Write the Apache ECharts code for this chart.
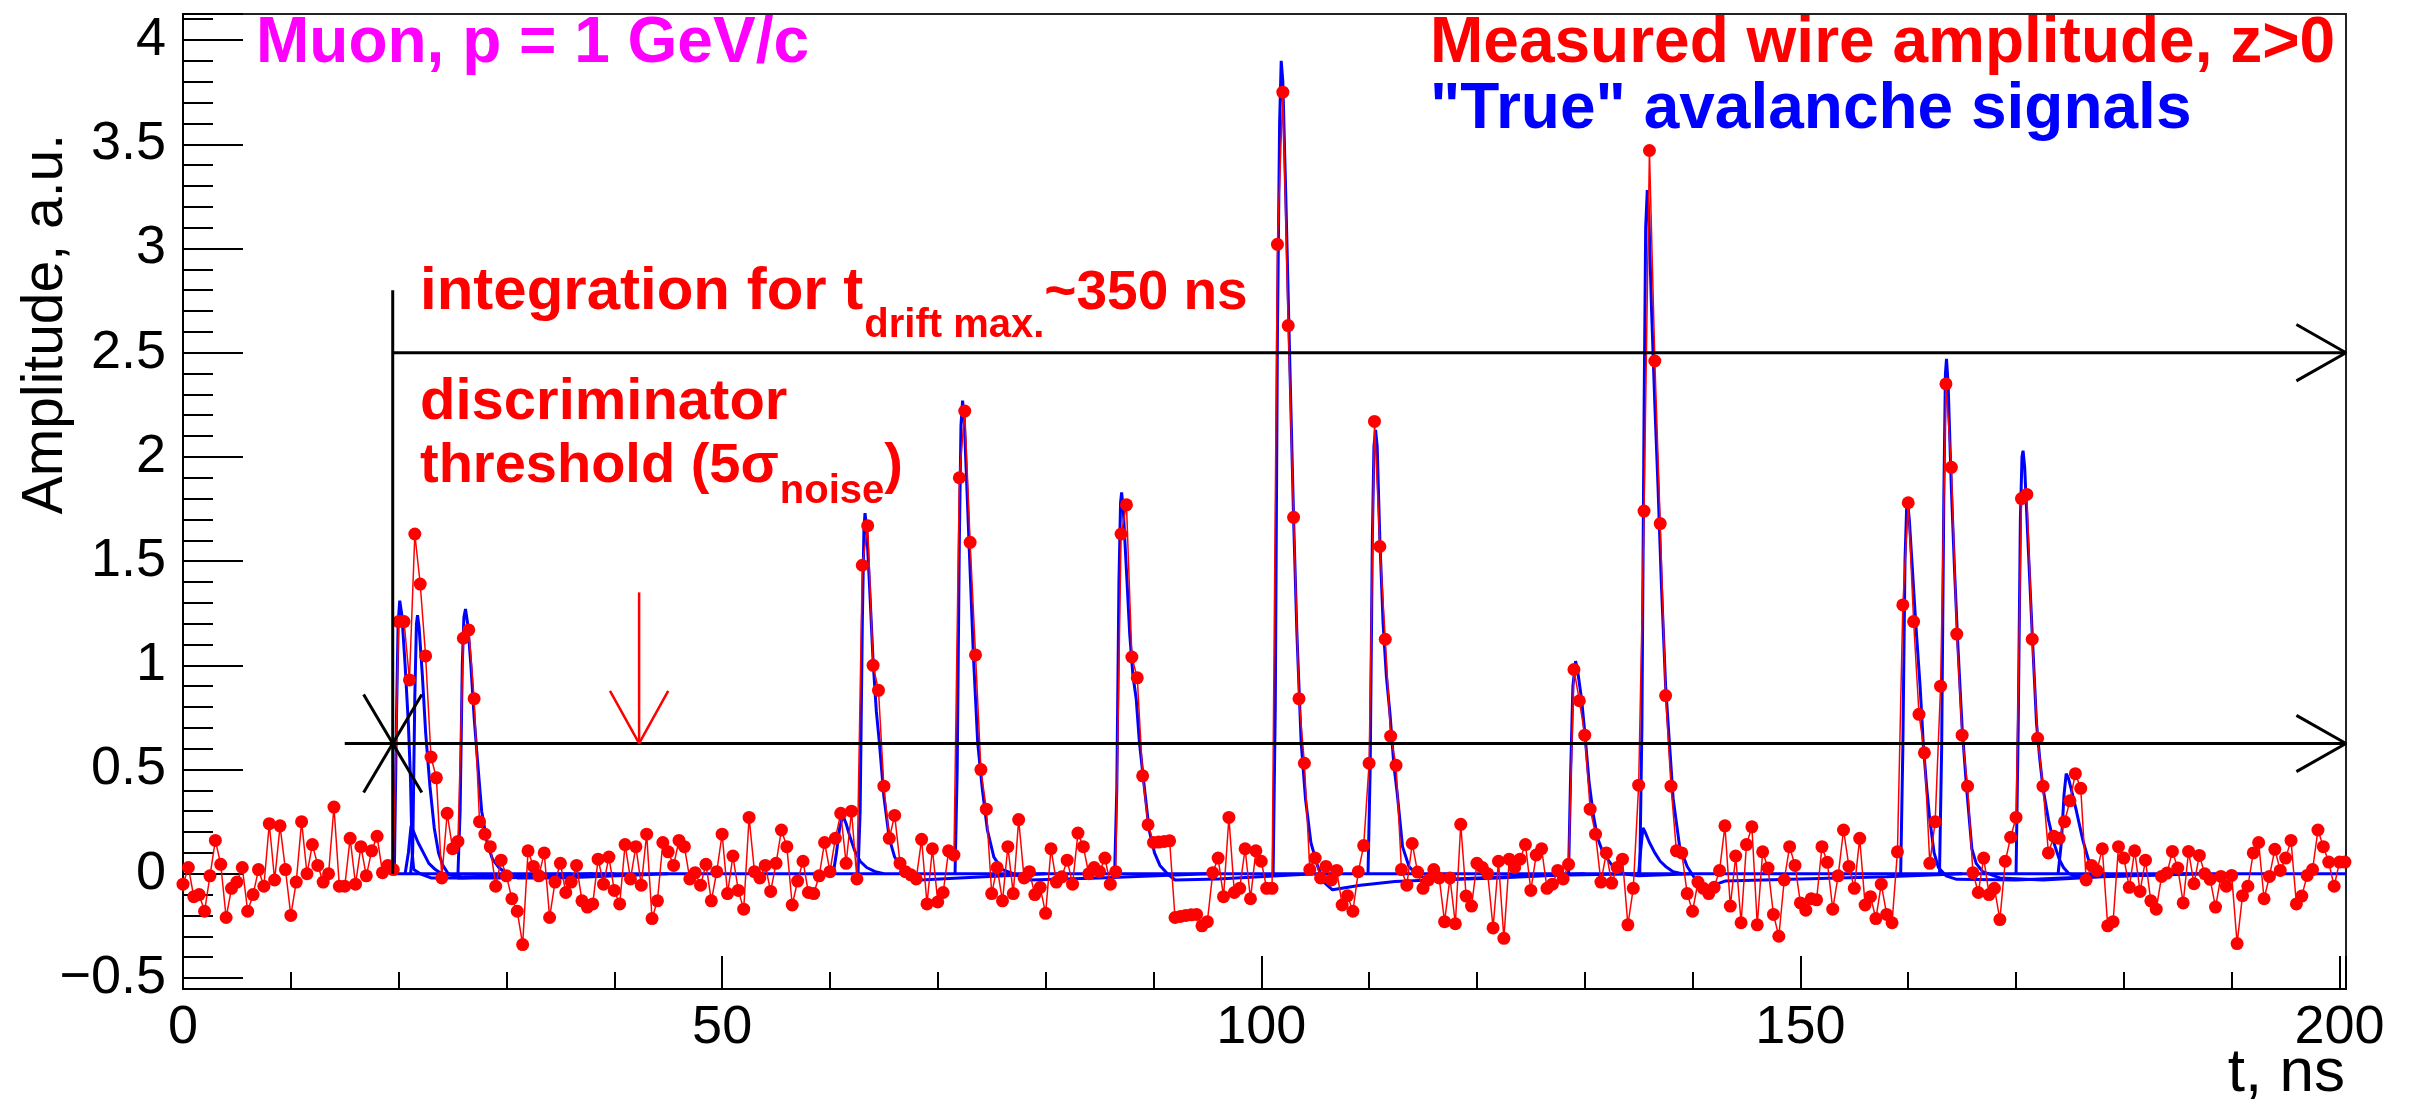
<!DOCTYPE html>
<html><head><meta charset="utf-8">
<script src="https://cdn.jsdelivr.net/npm/echarts@6/dist/echarts.min.js"></script>
<style>html,body{margin:0;padding:0;background:#fff}#c{width:2413px;height:1109px}</style>
</head><body><div id="c"></div>
<script>
// ---------------- data ----------------
const T_START = 0, T_STEP = 0.5;           // sampling of the measured wire amplitude (ns)
const X_MIN = 0, X_MAX = 200.6, Y_MIN = -0.553, Y_MAX = 4.125;
const xMajorLabels = [0, 50, 100, 150, 200];
const yMajorLabels = [-0.5, 0, 0.5, 1, 1.5, 2, 2.5, 3, 3.5, 4];

// measured wire amplitude, one value every 0.5 ns from t = 0 to 200.5
const measured = [
 -0.05,0.03,-0.11,-0.10,-0.18,-0.01,0.16,0.045,-0.21,-0.07,-0.04,0.03,-0.18,-0.10,0.02,-0.06,0.24,-0.03,0.23,0.02,
 -0.20,-0.04,0.25,0.0,0.14,0.04,-0.04,0.0,0.32,-0.06,-0.06,0.17,-0.05,0.13,-0.01,0.11,0.18,0.005,0.04,0.02,
 1.21,1.21,0.93,1.63,1.39,1.045,0.56,0.46,-0.02,0.29,0.12,0.155,1.13,1.17,0.84,0.25,0.19,0.13,-0.06,0.065,
 -0.01,-0.12,-0.18,-0.34,0.11,0.035,-0.01,0.10,-0.21,-0.04,0.05,-0.09,-0.04,0.04,-0.13,-0.16,-0.145,0.07,-0.05,0.08,
 -0.08,-0.145,0.14,-0.025,0.13,-0.055,0.19,-0.215,-0.13,0.15,0.105,0.04,0.16,0.13,-0.025,0.005,-0.055,0.045,-0.13,0.01,
 0.19,-0.095,0.085,-0.08,-0.17,0.27,0.01,-0.02,0.04,-0.085,0.05,0.21,0.13,-0.15,-0.035,0.06,-0.09,-0.095,-0.01,0.15,
 0.01,0.17,0.29,0.05,0.30,-0.025,1.48,1.67,1.0,0.88,0.42,0.17,0.28,0.05,0.01,-0.005,-0.025,0.165,-0.145,0.12,
 -0.135,-0.09,0.11,0.09,1.90,2.22,1.59,1.05,0.50,0.31,-0.095,0.03,-0.13,0.13,-0.095,0.26,-0.02,0.01,-0.10,-0.065,
 -0.19,0.12,-0.04,-0.015,0.065,-0.05,0.195,0.13,0.0,0.03,0.01,0.075,-0.05,0.01,1.63,1.77,1.04,0.94,0.47,0.235,
 0.15,0.152,0.155,0.158,-0.21,-0.205,-0.2,-0.197,-0.195,-0.25,-0.23,0.005,0.075,-0.11,0.27,-0.09,-0.07,0.12,-0.12,0.11,
 0.06,-0.07,-0.07,3.02,3.75,2.63,1.71,0.84,0.53,0.02,0.075,-0.02,0.035,-0.03,0.016,-0.15,-0.105,-0.18,0.01,0.135,
 0.53,2.17,1.57,1.125,0.66,0.52,0.02,-0.055,0.145,0.008,-0.07,-0.03,0.02,-0.02,-0.23,-0.02,-0.24,0.237,-0.107,-0.155,
 0.05,0.03,0.0,-0.26,0.06,-0.31,0.07,0.03,0.07,0.14,-0.08,0.09,0.12,-0.07,-0.05,0.016,-0.025,0.045,0.98,0.83,
 0.665,0.31,0.19,-0.04,0.10,-0.045,0.03,0.07,-0.245,-0.07,0.425,1.74,3.47,2.46,1.68,0.855,0.42,0.11,0.10,-0.095,
 -0.18,-0.04,-0.07,-0.095,-0.065,0.015,0.23,-0.155,0.085,-0.235,0.14,0.225,-0.245,0.105,0.027,-0.195,-0.30,-0.03,0.13,0.04,
 -0.14,-0.175,-0.12,-0.125,0.13,0.055,-0.17,-0.01,0.21,0.035,-0.07,0.17,-0.15,-0.11,-0.215,-0.05,-0.195,-0.235,0.105,1.29,
 1.78,1.21,0.765,0.58,0.05,0.25,0.9,2.35,1.95,1.15,0.665,0.42,0.005,-0.09,0.075,-0.10,-0.07,-0.22,0.06,0.175,
 0.27,1.80,1.82,1.125,0.65,0.42,0.10,0.18,0.17,0.25,0.35,0.48,0.41,-0.03,0.04,0.015,0.12,-0.25,-0.23,0.13,
 0.075,-0.065,0.11,-0.085,0.065,-0.13,-0.17,-0.013,0.003,0.107,0.027,-0.14,0.107,-0.048,0.088,0.0,-0.027,-0.16,-0.013,-0.06,
 -0.008,-0.335,-0.105,-0.06,0.10,0.15,-0.12,-0.013,0.117,0.016,0.075,0.16,-0.145,-0.107,-0.008,0.02,0.21,0.13,0.056,-0.06,
 0.056,0.056
];

// "true" avalanche signals: [t (ns), amplitude]
const trueBaseline = [[19.6,0],[200.6,0]];
const pulseA = [[19.6,0],[19.8,0.75],[19.95,1.2],[20.1,1.31],[20.3,1.24],[20.6,1.0],[20.9,0.72],[21.1,0.45],[21.25,0.1],[21.4,0.02],[22.0,0],[23,-0.02],[26,-0.02],[30,-0.01],[36,0]];
const pulseB = [[21.1,0],[21.3,0.1],[21.5,0.85],[21.65,1.2],[21.75,1.24],[21.9,1.18],[22.2,0.95],[22.5,0.68],[22.9,0.42],[23.3,0.22],[23.7,0.1],[24.1,0.04],[24.6,0.0],[25.5,-0.02],[30,-0.02],[38,0]];
const pulseC = [[20.6,0],[20.9,0.1],[21.15,0.23],[21.4,0.2],[21.8,0.15],[22.3,0.1],[22.8,0.05],[23.4,0.02],[24,0],[26,-0.015],[32,-0.01],[40,0]];
const pulseD = [[25.5,0],[25.7,0.3],[25.9,1.0],[26.05,1.23],[26.2,1.27],[26.4,1.2],[26.7,1.0],[27.0,0.75],[27.3,0.55],[27.7,0.3],[28.2,0.15],[28.7,0.07],[29.3,0.03],[30,0],[31,-0.02],[35,-0.02],[45,0]];
const pulseE = [[60.3,0],[60.6,0.1],[60.9,0.22],[61.2,0.28],[61.5,0.24],[61.9,0.17],[62.3,0.11],[62.8,0.06],[63.4,0.03],[64.2,0.01],[65,0]];
const pulseF = [[62.6,0],[62.8,0.3],[63.0,1.2],[63.15,1.65],[63.25,1.73],[63.4,1.66],[63.7,1.35],[64.0,1.02],[64.3,0.78],[64.6,0.62],[65.0,0.37],[65.5,0.17],[66.0,0.08],[66.6,0.03],[67.3,0.0],[68.4,-0.03],[72,-0.02],[80,0]];
const pulseG = [[71.6,0],[71.8,0.5],[72.0,1.6],[72.15,2.15],[72.3,2.27],[72.45,2.18],[72.7,1.85],[73.0,1.45],[73.3,1.05],[73.7,0.63],[74.1,0.42],[74.6,0.21],[75.2,0.08],[76.0,0.02],[77.0,0.0],[78.5,-0.03],[85,-0.02],[95,0]];
const pulseH = [[86.4,0],[86.6,0.4],[86.8,1.4],[86.95,1.78],[87.05,1.83],[87.2,1.75],[87.5,1.45],[87.8,1.15],[88.1,0.95],[88.4,0.84],[88.7,0.63],[89.1,0.44],[89.6,0.21],[90.1,0.1],[90.6,0.04],[91.3,0.0],[92.0,-0.03],[96,-0.025],[105,0]];
const pulseI = [[101.1,0],[101.3,0.8],[101.5,2.6],[101.7,3.6],[101.85,3.9],[102.0,3.8],[102.3,3.2],[102.6,2.55],[103.0,1.7],[103.3,1.16],[103.7,0.63],[104.1,0.36],[104.6,0.15],[105.2,0.04],[105.8,-0.04],[106.6,-0.077],[109.2,-0.055],[112.4,-0.037],[118,-0.025],[125,-0.01],[135,0]];
const pulseJ = [[109.9,0],[110.1,0.5],[110.3,1.6],[110.45,2.05],[110.6,2.13],[110.75,2.05],[111.0,1.6],[111.3,1.2],[111.6,0.95],[111.95,0.76],[112.3,0.52],[112.6,0.39],[113.1,0.13],[113.7,0.035],[114.5,-0.01],[116,-0.03],[122,-0.02],[130,0]];
const pulseK = [[128.5,0],[128.7,0.5],[128.9,0.9],[129.15,1.02],[129.35,0.97],[129.7,0.84],[130.0,0.68],[130.4,0.44],[130.8,0.28],[131.2,0.17],[131.7,0.1],[132.6,0.035],[133.6,0.0],[135,-0.01],[140,0]];
const pulseL = [[135.1,0],[135.3,0.7],[135.5,2.2],[135.65,3.1],[135.8,3.28],[135.95,3.15],[136.2,2.7],[136.5,2.25],[136.8,1.85],[137.1,1.4],[137.5,0.9],[137.85,0.63],[138.2,0.36],[138.8,0.13],[139.5,0.035],[140.3,-0.03],[141.4,-0.065],[143,-0.035],[150,-0.025],[158,-0.015],[165,0]];
const pulseM = [[135.0,0],[135.2,0.12],[135.4,0.22],[135.6,0.2],[136.0,0.15],[136.5,0.1],[137.0,0.06],[137.5,0.035],[138.2,0.01],[139,0]];
const pulseN = [[159.3,0],[159.5,0.6],[159.7,1.5],[159.85,1.75],[159.95,1.78],[160.1,1.7],[160.4,1.45],[160.7,1.2],[161.1,0.9],[161.4,0.62],[161.7,0.42],[162.0,0.26],[162.4,0.1],[162.8,0.03],[163.5,-0.01],[164.5,-0.027],[170,-0.03],[176.5,-0.016],[185,0]];
const pulseO = [[162.9,0],[163.1,0.6],[163.3,1.8],[163.45,2.4],[163.55,2.47],[163.7,2.35],[164.0,1.85],[164.3,1.45],[164.6,1.1],[165.0,0.7],[165.4,0.42],[165.9,0.12],[166.3,0.05],[166.9,0.01],[168.5,-0.02],[172.5,-0.03],[178,-0.015],[186,0]];
const pulseP = [[170.0,0],[170.2,0.7],[170.4,1.7],[170.55,2.0],[170.65,2.03],[170.8,1.95],[171.1,1.6],[171.5,1.15],[171.9,0.72],[172.2,0.55],[172.5,0.41],[173.0,0.26],[173.5,0.15],[174.0,0.07],[174.4,0.03],[174.9,0.0],[176,-0.015],[180,-0.01],[188,0]];
const pulseQ = [[173.9,0],[174.2,0.15],[174.45,0.38],[174.65,0.48],[174.85,0.46],[175.1,0.41],[175.6,0.3],[176.2,0.16],[176.7,0.07],[177.1,0.025],[177.9,0],[180,-0.01],[185,0]];
const truePulses = [pulseA,pulseB,pulseC,pulseD,pulseE,pulseF,pulseG,pulseH,pulseI,pulseJ,pulseK,pulseL,pulseM,pulseN,pulseO,pulseP,pulseQ];

// annotation geometry in data units (t, amplitude)
const integrationLine  = [[19.45,2.5],[200.6,2.5]];
const integrationHead  = [[196.0,2.635],[200.6,2.5],[196.0,2.365]];
const integrationStart = [[19.45,0],[19.45,2.8]];
const thresholdLine    = [[15.0,0.625],[200.6,0.625]];
const thresholdHead    = [[196.0,0.76],[200.6,0.625],[196.0,0.49]];
const starDiagA        = [[16.75,0.86],[22.15,0.39]];
const starDiagB        = [[16.75,0.39],[22.15,0.86]];
const noiseArrow       = [[42.3,1.35],[42.3,0.625]];
const noiseArrowHead   = [[39.6,0.877],[42.3,0.625],[45.0,0.877]];

// ---------------- chart ----------------
const FONT = '"Liberation Sans", Arial, Helvetica, sans-serif';
const chart = echarts.init(document.getElementById('c'), null, {renderer: 'canvas'});
const mctx = document.createElement('canvas').getContext('2d');
function tw(text, font) { mctx.font = font; return mctx.measureText(text).width; }
function txt(text, x, baseline, fs, color, weight, align) {
  const font = (weight || 'normal') + ' ' + fs + 'px ' + FONT;
  return { type: 'text', x: x, y: baseline - 0.3465 * fs, z: 100,
    style: { text: text, fill: color, font: font, align: align || 'left', textAlign: align || 'left',
             verticalAlign: 'middle', textVerticalAlign: 'middle' } };
}
const BIG = 64, INT = 60, INT2 = 55, MID = 58, THR = 56, SUB = 40;
const fb = (s) => 'bold ' + s + 'px ' + FONT;
const graphics = [];
graphics.push(txt('Muon, p = 1 GeV/c', 256, 67, BIG, '#ff00ff', 'bold'));
graphics.push(txt('Measured wire amplitude, z>0', 1430, 67, BIG, '#ff0000', 'bold'));
graphics.push(txt('"True" avalanche signals', 1430, 133, BIG, '#0000ff', 'bold'));
// integration for t_{drift max.}~350 ns
let x0 = 420;
graphics.push(txt('integration for t', x0, 313, INT, '#ff0000', 'bold'));
let x1 = x0 + tw('integration for t', fb(INT)) + 1;
graphics.push(txt('drift max.', x1, 340, SUB, '#ff0000', 'bold'));
let x2 = x1 + tw('drift max.', fb(SUB));
graphics.push(txt('~350 ns', x2, 313, INT2, '#ff0000', 'bold'));
// discriminator threshold (5 sigma_noise)
graphics.push(txt('discriminator', 420, 423, MID, '#ff0000', 'bold'));
graphics.push(txt('threshold (5\u03C3', 420, 486, THR, '#ff0000', 'bold'));
let x3 = 420 + tw('threshold (5\u03C3', fb(THR)) + 1;
graphics.push(txt('noise', x3, 506, SUB, '#ff0000', 'bold'));
let x4 = x3 + tw('noise', fb(SUB));
graphics.push(txt(')', x4, 486, THR, '#ff0000', 'bold'));
// axis titles
graphics.push(txt('t, ns', 2345, 1095, 62, '#000', 'normal', 'right'));
graphics.push({ type: 'text', x: 66 - 0.3465 * 57, y: 134, rotation: Math.PI / 2, z: 100,
  style: { text: 'Amplitude, a.u.', fill: '#000', font: 'normal 57px ' + FONT,
           align: 'right', textAlign: 'right', verticalAlign: 'middle', textVerticalAlign: 'middle' } });

function xLabel(v) {
  return xMajorLabels.some(m => Math.abs(m - v) < 1e-6) ? String(v) : '';
}
function yLabel(v) {
  const m = yMajorLabels.find(q => Math.abs(q - v) < 1e-6);
  if (m === undefined) return '';
  return m < 0 ? '\u2212' + Math.abs(m) : String(m);
}

const blackLine = (data) => ({ type: 'line', data: data, symbol: 'none', clip: false, z: 6, silent: true,
  lineStyle: { color: '#000', width: 3 }, xAxisIndex: 0, yAxisIndex: 0, animation: false });
const redLine = (data) => ({ type: 'line', data: data, symbol: 'none', clip: false, z: 6, silent: true,
  lineStyle: { color: '#ff0000', width: 2.5 }, xAxisIndex: 0, yAxisIndex: 0, animation: false });

const series = [];
series.push({ type: 'line', data: trueBaseline, symbol: 'none', z: 2, lineStyle: { color: '#0000ff', width: 3 }, animation: false });
truePulses.forEach(p => series.push({ type: 'line', data: p, symbol: 'none', z: 2,
  lineStyle: { color: '#0000ff', width: 3 }, animation: false }));
series.push({ type: 'line', data: measured.map((v, i) => [T_START + i * T_STEP, v]), z: 4,
  symbol: 'circle', symbolSize: 13, showSymbol: true, showAllSymbol: true,
  itemStyle: { color: '#ff0000' }, lineStyle: { color: '#ff0000', width: 1.5 }, animation: false });
[integrationLine, integrationHead, integrationStart, thresholdLine, thresholdHead, starDiagA, starDiagB]
  .forEach(d => series.push(blackLine(d)));
[noiseArrow, noiseArrowHead].forEach(d => series.push(redLine(d)));

const axisCol = '#000';
chart.setOption({
  animation: false,
  backgroundColor: '#ffffff',
  textStyle: { fontFamily: FONT },
  grid: { left: 183, right: 67, top: 14, bottom: 120, containLabel: false, outerBoundsMode: 'none',
          show: true, borderColor: '#222', borderWidth: 2, backgroundColor: 'transparent' },
  xAxis: [
    { type: 'value', min: X_MIN, max: X_MAX, interval: 50, position: 'bottom',
      axisLine: { show: true, onZero: false, lineStyle: { color: axisCol, width: 2 } },
      axisTick: { show: true, inside: true, length: 33, lineStyle: { color: axisCol, width: 2 } },
      minorTick: { show: false }, splitLine: { show: false },
      axisLabel: { show: true, margin: 12, fontSize: 54, color: '#000', fontFamily: FONT, formatter: xLabel,
                   hideOverlap: false, showMinLabel: true, showMaxLabel: true } },
    { type: 'value', min: X_MIN, max: X_MAX, interval: 10, position: 'bottom',
      axisLine: { show: false, onZero: false }, axisLabel: { show: false }, splitLine: { show: false },
      axisTick: { show: true, inside: true, length: 17, lineStyle: { color: axisCol, width: 2 } } }
  ],
  yAxis: [
    { type: 'value', min: Y_MIN, max: Y_MAX, splitNumber: 9, position: 'left',
      axisLine: { show: true, onZero: false, lineStyle: { color: axisCol, width: 2 } },
      axisTick: { show: true, inside: true, length: 60, lineStyle: { color: axisCol, width: 2 } },
      minorTick: { show: false }, splitLine: { show: false },
      axisLabel: { show: true, margin: 17, fontSize: 54, color: '#000', fontFamily: FONT, formatter: yLabel,
                   hideOverlap: false, showMinLabel: true, showMaxLabel: true } },
    { type: 'value', min: Y_MIN, max: Y_MAX, splitNumber: 47, position: 'left',
      axisLine: { show: false, onZero: false }, axisLabel: { show: false }, splitLine: { show: false },
      axisTick: { show: true, inside: true, length: 30, lineStyle: { color: axisCol, width: 2 } } }
  ],
  series: series,
  graphic: { elements: graphics }
});
</script></body></html>
